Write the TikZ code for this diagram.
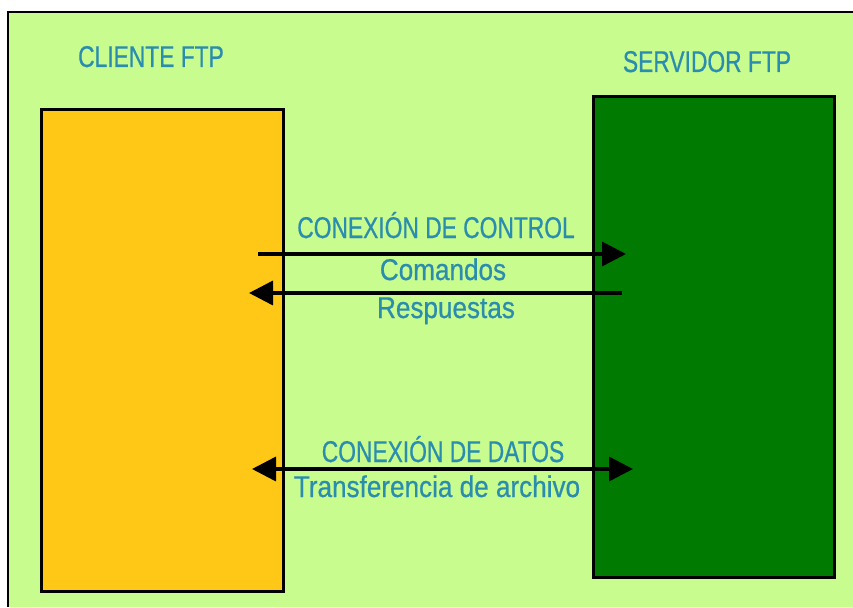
\documentclass[tikz,border=0pt]{standalone}
\usepackage{fontspec}
\newfontfamily\condfont[FakeStretch=0.76,FakeBold=0.6]{Liberation Sans}
\newfontfamily\condlfont[FakeStretch=0.87,FakeBold=0.6]{Liberation Sans}
\definecolor{bgc}{HTML}{C8FC8E}
\definecolor{yel}{HTML}{FFC716}
\definecolor{grn}{HTML}{007A00}
\definecolor{txt}{HTML}{2A8CAE}
\tikzset{
  box/.style={draw=black, line width=3pt, inner sep=0pt},
  lbl/.style={text=txt, font=\condfont\fontsize{30}{36}\selectfont, inner sep=0pt, anchor=base},
  lbll/.style={lbl, font=\condlfont\fontsize{30}{36}\selectfont},
  arr/.style={line width=3.5pt, -{Triangle[length=24pt,width=24pt]}},
  darr/.style={line width=3.5pt, {Triangle[length=24pt,width=24pt]}-{Triangle[length=24pt,width=24pt]}}
}
\usetikzlibrary{arrows.meta}
\begin{document}
\begin{tikzpicture}[x=1pt,y=-1pt]
\useasboundingbox (0,0) rectangle (853,607);
\fill[white] (0,0) rectangle (853,607);
\fill[bgc] (8,12) rectangle (853,607);
\draw[line width=2.5pt] (8,607) -- (8,12) -- (853,12);
\node[box, fill=yel, minimum width=242pt, minimum height=482pt, anchor=north west] (cli) at (40,108) {};
\node[box, fill=grn, minimum width=241pt, minimum height=481pt, anchor=north west] (srv) at (592,95) {};
\node[lbl] (tcli) at (151,67) {CLIENTE FTP};
\node[lbl] (tsrv) at (707,72) {SERVIDOR FTP};
\node[lbl] (tcc) at (436,238) {CONEXIÓN DE CONTROL};
\node[lbll] (tcom) at (443,280) {Comandos};
\node[lbll] (tres) at (446,318) {Respuestas};
\node[lbl] (tcd) at (443,462) {CONEXIÓN DE DATOS};
\node[lbll] (ttr) at (437,497) {Transferencia de archivo};
\coordinate (a1s) at (258,254);
\coordinate (a1e) at (626,254);
\coordinate (a2s) at (622,293);
\coordinate (a2e) at (249,293);
\coordinate (a3s) at (252,469);
\coordinate (a3e) at (633,469);
\draw[arr] (a1s) -- (a1e);
\draw[arr] (a2s) -- (a2e);
\draw[darr] (a3s) -- (a3e);
\end{tikzpicture}
\end{document}
